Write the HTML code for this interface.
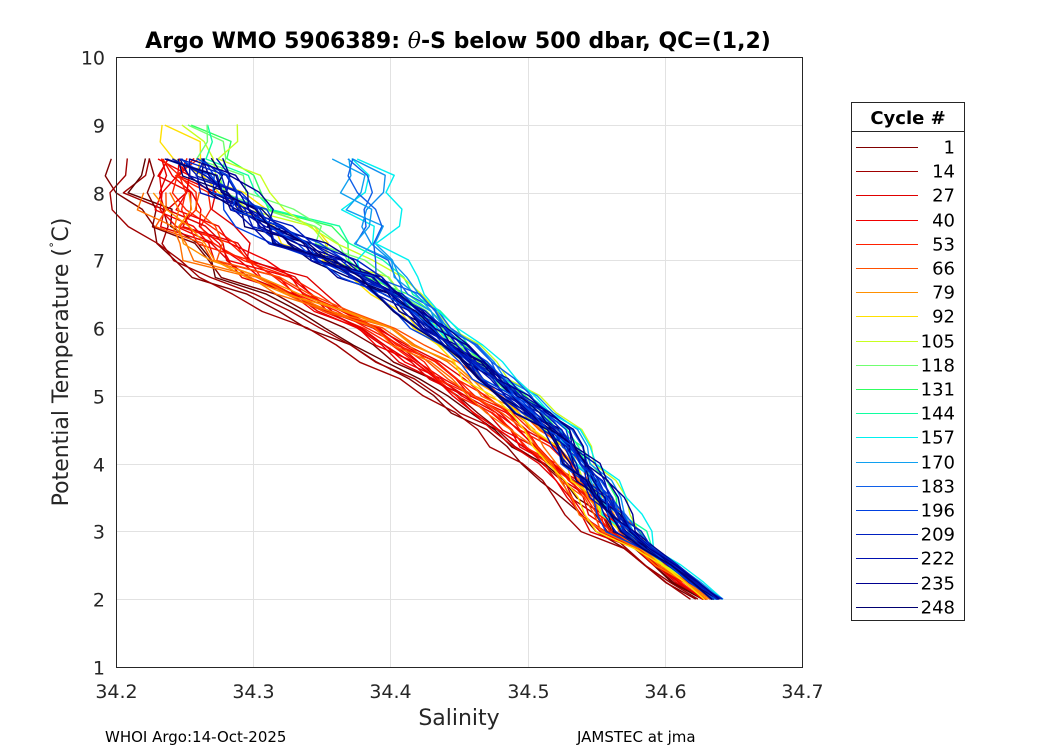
<!DOCTYPE html>
<html><head><meta charset="utf-8"><style>
body{margin:0;background:#fff;}
svg{font-family:"DejaVu Sans","Liberation Sans",sans-serif;}
</style></head><body>
<svg id="chart" width="1050" height="750" viewBox="0 0 1050 750">
<rect x="0" y="0" width="1050" height="750" fill="#fff"/>
<text x="458" y="48" text-anchor="middle" font-size="22" font-weight="bold">Argo WMO 5906389: <tspan font-style="italic" font-family="DejaVu Serif,serif" font-weight="normal">θ</tspan>-S below 500 dbar,  QC=(1,2)</text>
<g id="grid"></g>
<g id="lines"></g>
<rect x="116.5" y="57.5" width="686" height="610" fill="none" stroke="#262626" stroke-width="1"/>
<g id="ticks"></g>
<text x="459" y="725" text-anchor="middle" font-size="22" fill="#262626">Salinity</text>
<text transform="translate(68,362) rotate(-90)" text-anchor="middle" font-size="22" fill="#262626">Potential Temperature (<tspan baseline-shift="super" font-size="13">˚</tspan>C)</text>
<text x="105" y="742" font-size="15">WHOI Argo:14-Oct-2025</text>
<text x="577" y="742" font-size="15">JAMSTEC at jma</text>
<g id="legend">
<rect x="851.5" y="102.5" width="113" height="518" fill="#fff" stroke="#262626" stroke-width="1"/>
<line x1="851" y1="131.5" x2="965" y2="131.5" stroke="#262626"/>
<text x="908" y="124" text-anchor="middle" font-size="18" font-weight="bold">Cycle #</text>
</g>
</svg>
<script>
const xTicks=[34.2,34.3,34.4,34.5,34.6,34.7];
const yTicks=[1,2,3,4,5,6,7,8,9,10];
const legendCycles=[1,14,27,40,53,66,79,92,105,118,131,144,157,170,183,196,209,222,235,248];
const legendColors=["#800000","#a00000","#e00000","#f00000","#ff2000","#ff5000","#ff9000","#ffe000","#c8ff20","#70ff70","#30ff60","#10ffa0","#00f0f0","#10a0f0","#1060e8","#0040e0","#0020c0","#0010b0","#000090","#000070"];
const tempLevels=[2,2.25,2.5,2.75,3,3.25,3.5,3.75,4,4.25,4.5,4.75,5,5.25,5.5,5.75,6,6.25,6.5,6.75,7,7.25,7.5,7.75,8,8.25,8.5,8.75,9];
const baseDarkRed=[34.625,34.607,34.59,34.575,34.56,34.55,34.54,34.526,34.51,34.494,34.478,34.46,34.44,34.42,34.40,34.378,34.355,34.33,34.305,34.282,34.26,34.245,34.235,34.228,34.22,34.217,34.215,null,null];
const baseRed=[34.632,34.615,34.598,34.582,34.566,34.556,34.545,34.534,34.522,34.508,34.494,34.478,34.46,34.442,34.425,34.405,34.385,34.36,34.34,34.318,34.295,34.278,34.262,34.255,34.25,34.247,34.245,null,null];
const baseOrange=[34.634,34.617,34.60,34.584,34.568,34.558,34.549,34.54,34.53,34.518,34.506,34.49,34.474,34.457,34.44,34.42,34.40,34.365,34.33,34.30,34.275,34.26,34.25,34.245,34.24,null,null,null,null];
const baseGreen=[34.637,34.62,34.603,34.587,34.572,34.563,34.555,34.546,34.538,34.529,34.52,34.505,34.49,34.476,34.463,34.449,34.435,34.422,34.41,34.39,34.37,34.355,34.34,34.315,34.29,34.28,34.27,34.265,34.26];
const baseCyan=[34.64,34.623,34.606,34.59,34.575,34.566,34.558,34.55,34.542,34.533,34.524,34.51,34.495,34.481,34.468,34.454,34.44,34.428,34.415,34.4,34.39,34.387,34.385,34.382,34.38,34.378,34.375,null,null];
const baseBlue=[34.638,34.621,34.605,34.588,34.572,34.563,34.555,34.546,34.538,34.529,34.52,34.504,34.488,34.474,34.46,34.445,34.43,34.415,34.40,34.378,34.355,34.332,34.31,34.295,34.28,34.268,34.255,null,null];
const wiggle=[0.004,-0.006,0.003,0.008,-0.004,-0.009,0.006,0.002,-0.007,0.005,-0.003,0.009,-0.005,0.001,0.007,-0.002,0.003,-0.008];
const groups=[
 {base:baseDarkRed,offsets:[-0.012,-0.005,0.0,0.006,-0.018],colors:["#800000","#a00000","#600000"]},
 {base:baseRed,offsets:[-0.015,-0.01,-0.006,-0.002,0.002,0.006,0.01,-0.012,0.004,-0.008,0.0,-0.004],colors:["#e00000","#f00000","#ff2000"]},
 {base:baseOrange,offsets:[-0.01,-0.004,0.002,0.008,-0.015,0.0],colors:["#ff5000","#ff7000","#ff9000"]},
 {base:baseGreen,offsets:[-0.01,-0.004,0.002,0.006,0.01,-0.02,0.014,0.0],colors:["#ffe000","#c8ff20","#70ff70","#30ff60","#10ffa0"]},
 {base:baseCyan,offsets:[-0.008,-0.003,0.002,0.007,0.012,-0.002,0.004],colors:["#00f0f0","#10a0f0","#1060e8","#1090f0"]},
 {base:baseBlue,offsets:[-0.01,-0.007,-0.004,-0.002,0,0.002,0.004,0.007,0.01,-0.005,0.005,0.0,-0.003,0.003,0.001,-0.001,0.006,-0.006,0.008,-0.008],colors:["#0040e0","#0020c0","#0010b0","#000090","#000070"]}
];
const X0=116,X1=802,Y0=667,Y1=57;
function xs(s){return X0+(s-34.2)/(0.5)*(X1-X0);}
function ys(t){return Y0-(t-1)/9*(Y0-Y1);}
const NS="http://www.w3.org/2000/svg";
const grid=document.getElementById('grid'),ticks=document.getElementById('ticks'),lines=document.getElementById('lines');
xTicks.forEach(v=>{
 const x=Math.round(xs(v))+0.5;
 const g=document.createElementNS(NS,'line');
 g.setAttribute('x1',x);g.setAttribute('x2',x);g.setAttribute('y1',Y1);g.setAttribute('y2',Y0);g.setAttribute('stroke','#e2e2e2');
 
 
 grid.appendChild(g);
 const t=document.createElementNS(NS,'text');
 t.setAttribute('x',x);t.setAttribute('y',698);t.setAttribute('text-anchor','middle');t.setAttribute('font-size','19');t.setAttribute('fill','#262626');
 t.textContent=v.toFixed(1);
 
 
 ticks.appendChild(t);
});
yTicks.forEach(v=>{
 const y=Math.round(ys(v))+0.5;
 const g=document.createElementNS(NS,'line');
 g.setAttribute('x1',X0);g.setAttribute('x2',X1);g.setAttribute('y1',y);g.setAttribute('y2',y);g.setAttribute('stroke','#e2e2e2');
 
 
 grid.appendChild(g);
 const t=document.createElementNS(NS,'text');
 t.setAttribute('x',105);t.setAttribute('y',y+7);t.setAttribute('text-anchor','end');t.setAttribute('font-size','19');t.setAttribute('fill','#262626');
 t.textContent=v;
 
 
 ticks.appendChild(t);
});
groups.forEach((gr,gi)=>{
 gr.offsets.forEach((o,oi)=>{
  const pts=[];
  gr.base.forEach((s,i)=>{
   if(s===null)return;
   const w=wiggle[(i*5+oi*7+gi*3)%wiggle.length];
   const T=tempLevels[i];
   const scale=T>6.5?1.6:(T<3?0.3:0.6);
   const oo=o*(T<3?0.3:1);
   pts.push(xs(s+oo+w*scale).toFixed(1)+','+ys(T+w*0.6).toFixed(1));
  });
  const p=document.createElementNS(NS,'polyline');
  p.setAttribute('points',pts.join(' '));
  p.setAttribute('fill','none');
  p.setAttribute('stroke',gr.colors[oi%gr.colors.length]);
  p.setAttribute('stroke-width','1.4');
  p.setAttribute('stroke-linejoin','round');
  
  
  lines.appendChild(p);
 });
});
const leg=document.getElementById('legend');
legendCycles.forEach((c,i)=>{
 const y=Math.round(147+i*24.2)+0.5;
 const l=document.createElementNS(NS,'line');
 l.setAttribute('x1',856);l.setAttribute('x2',918);l.setAttribute('y1',y);l.setAttribute('y2',y);l.setAttribute('stroke',legendColors[i]);
 
 
 leg.appendChild(l);
 const t=document.createElementNS(NS,'text');
 t.setAttribute('x',955);t.setAttribute('y',y+6);t.setAttribute('text-anchor','end');t.setAttribute('font-size','18');
 t.textContent=c;
 
 
 leg.appendChild(t);
});
</script>
</body></html>
